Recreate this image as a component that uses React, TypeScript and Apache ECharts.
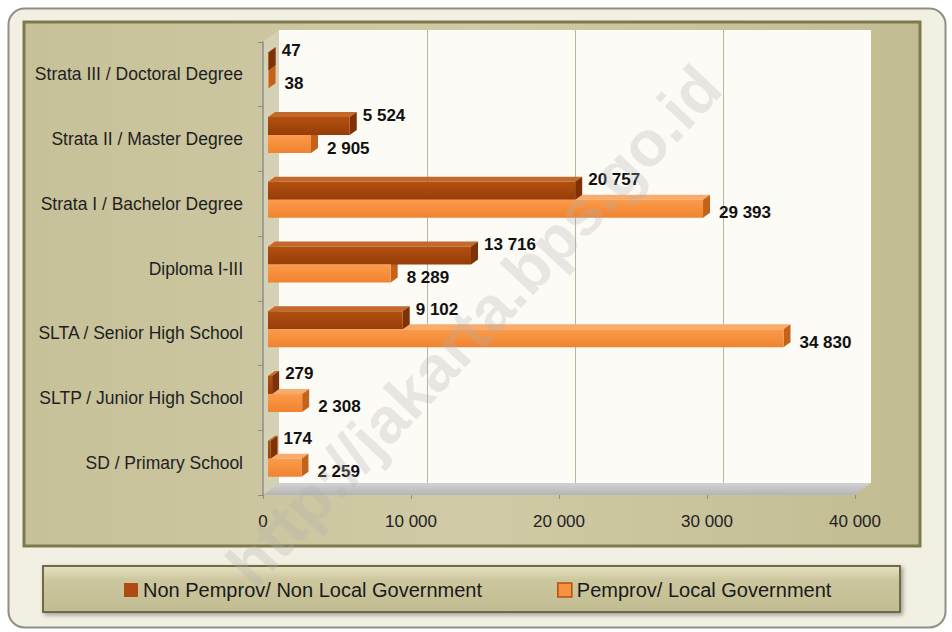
import React, { useEffect, useRef } from "react";
import * as echarts from "echarts";

const categories = [
  "Strata III / Doctoral Degree",
  "Strata II / Master Degree",
  "Strata I / Bachelor Degree",
  "Diploma I-III",
  "SLTA / Senior High School",
  "SLTP / Junior High School",
  "SD / Primary School",
];
const nonLocalGov = [47, 5524, 20757, 13716, 9102, 279, 174];
const localGov = [38, 2905, 29393, 8289, 34830, 2308, 2259];
const seriesNames = ["Non Pemprov/ Non Local Government", "Pemprov/ Local Government"];
const axisMin = 0;
const axisMax = 40000;
const axisStep = 10000;

const SANS = "'Liberation Sans', Arial, sans-serif";
const BW = 18;
const DX = 7;
const DY = 5;

const fmt = (v: number) => String(v).replace(/\B(?=(\d{3})+(?!\d))/g, " ");

function make3D(values: number[], top: boolean, topFill: string, sideFill: string) {
  return {
    type: "custom",
    xAxisIndex: 1,
    yAxisIndex: 1,
    z: 1,
    silent: true,
    data: values.map((v, i) => [i, v]),
    encode: { x: 1, y: 0 },
    renderItem: (params: any, api: any) => {
      const cat = api.value(0);
      const val = api.value(1);
      const base = api.coord([0, cat]);
      const end = api.coord([val, cat]);
      const yTop = top ? base[1] - BW : base[1];
      const yBot = yTop + BW;
      const x0 = base[0];
      const x1 = end[0];
      return {
        type: "group",
        children: [
          {
            type: "polygon",
            shape: { points: [[x0, yTop], [x1, yTop], [x1 + DX, yTop - DY], [x0 + DX, yTop - DY]] },
            style: { fill: topFill },
          },
          {
            type: "polygon",
            shape: { points: [[x1, yTop], [x1 + DX, yTop - DY], [x1 + DX, yBot - DY], [x1, yBot]] },
            style: { fill: sideFill },
          },
        ],
      };
    },
  };
}

export default function App() {
  const ref = useRef<HTMLDivElement>(null);
  useEffect(() => {
    if (!ref.current) return;
    const chart = echarts.init(ref.current, null, { renderer: "svg" });
    const darkFront = new echarts.graphic.LinearGradient(0, 0, 0, 1, [
      { offset: 0, color: "#b3500f" },
      { offset: 1, color: "#963d09" },
    ]);
    const orangeFront = new echarts.graphic.LinearGradient(0, 0, 0, 1, [
      { offset: 0, color: "#fb9b4b" },
      { offset: 1, color: "#f0832f" },
    ]);
    const valueLabel = {
      show: true,
      position: "right",
      fontFamily: SANS,
      fontWeight: "bold",
      fontSize: 17,
      color: "#111",
      formatter: (p: any) => fmt(p.value),
    };
    const option: any = {
      animation: false,
      backgroundColor: "transparent",
      graphic: [
        {
          type: "rect",
          z: -20,
          shape: { x: 8.5, y: 8.5, width: 937, height: 619, r: 16 },
          style: { fill: "#f2f0e2", stroke: "#8f8f86", lineWidth: 2 },
        },
        {
          type: "rect",
          z: -19,
          shape: { x: 24, y: 22, width: 896, height: 524 },
          style: {
            fill: new echarts.graphic.LinearGradient(0, 0, 1, 0, [
              { offset: 0, color: "#c7c199" },
              { offset: 0.5, color: "#d0cba6" },
              { offset: 1, color: "#c2bc92" },
            ]),
            stroke: "#7d784e",
            lineWidth: 3,
          },
        },
        {
          type: "polygon",
          z: -18,
          shape: { points: [[263, 42], [279, 30], [279, 483], [263, 495]] },
          style: { fill: "#d5d1b4" },
        },
        {
          type: "polygon",
          z: -18,
          shape: { points: [[263, 495], [279, 483], [871, 483], [855, 495]] },
          style: {
            fill: new echarts.graphic.LinearGradient(0, 0, 0, 1, [
              { offset: 0, color: "#d2d2d2" },
              { offset: 1, color: "#b4b4b4" },
            ]),
          },
        },
        {
          type: "rect",
          z: -18,
          shape: { x: 43, y: 566, width: 857, height: 46 },
          style: {
            fill: new echarts.graphic.LinearGradient(0, 0, 0, 1, [
              { offset: 0, color: "#e6e2c0" },
              { offset: 0.3, color: "#cdc79f" },
              { offset: 1, color: "#c2bc92" },
            ]),
            stroke: "#6f6a45",
            lineWidth: 2,
            shadowBlur: 4,
            shadowColor: "rgba(0,0,0,0.35)",
            shadowOffsetX: 2,
            shadowOffsetY: 2,
          },
        },
        {
          type: "text",
          z: 100,
          silent: true,
          x: 474,
          y: 326,
          rotation: 0.815,
          style: {
            text: "http://jakarta.bps.go.id",
            font: "bold 64px 'Liberation Sans', Arial, sans-serif",
            fill: "rgba(175,175,175,0.28)",
            align: "center",
            verticalAlign: "middle",
          },
        },
      ],
      legend: {
        data: seriesNames,
        left: 124,
        top: 580,
        padding: 0,
        itemWidth: 14,
        itemHeight: 14,
        itemGap: 75,
        icon: "rect",
        textStyle: { fontFamily: SANS, fontSize: 20, color: "#1a1a1a" },
      },
      grid: [
        { left: 279, top: 30, width: 592, height: 453, show: true, backgroundColor: "#fcfbf6", borderWidth: 0 },
        { left: 268, top: 38, width: 592, height: 453 },
        { left: 263, top: 42, width: 592, height: 453 },
      ],
      xAxis: [
        {
          gridIndex: 0,
          type: "value",
          min: axisMin,
          max: axisMax,
          interval: axisStep,
          axisLine: { show: false },
          axisTick: { show: false },
          axisLabel: { show: false },
          splitLine: { show: true, showMinLine: false, showMaxLine: false, lineStyle: { color: "#b8b59c", width: 1 } },
        },
        {
          gridIndex: 1,
          type: "value",
          min: axisMin,
          max: axisMax,
          interval: axisStep,
          show: false,
          splitLine: { show: false },
        },
        {
          gridIndex: 2,
          type: "value",
          min: axisMin,
          max: axisMax,
          interval: axisStep,
          axisLine: { show: false },
          axisTick: { show: true, length: 4, lineStyle: { color: "#8c8c8c" } },
          splitLine: { show: false },
          axisLabel: {
            margin: 18,
            fontFamily: SANS,
            fontSize: 17,
            color: "#222",
            formatter: (v: number) => fmt(v),
          },
        },
      ],
      yAxis: [
        { gridIndex: 0, type: "category", data: categories, inverse: true, show: false },
        { gridIndex: 1, type: "category", data: categories, inverse: true, show: false },
        {
          gridIndex: 2,
          type: "category",
          data: categories,
          inverse: true,
          axisLine: { show: true, lineStyle: { color: "#8c8c8c", width: 1.5 } },
          axisTick: { show: true, length: 5, lineStyle: { color: "#8c8c8c" } },
          axisLabel: { margin: 20, fontFamily: SANS, fontSize: 17.5, color: "#1e1e1e" },
        },
      ],
      series: [
        make3D(localGov, false, "#f9ab6c", "#c4621c"),
        make3D(nonLocalGov, true, "#c4692c", "#7e3206"),
        {
          name: seriesNames[0],
          type: "bar",
          xAxisIndex: 1,
          yAxisIndex: 1,
          z: 3,
          barWidth: BW,
          barGap: "0%",
          data: nonLocalGov,
          itemStyle: { color: darkFront },
          label: { ...valueLabel, distance: 13, offset: [0, -11] },
        },
        {
          name: seriesNames[1],
          type: "bar",
          xAxisIndex: 1,
          yAxisIndex: 1,
          z: 3,
          barWidth: BW,
          barGap: "0%",
          data: localGov,
          itemStyle: { color: orangeFront },
          label: { ...valueLabel, distance: 16, offset: [0, 4] },
        },
      ],
    };
    chart.setOption(option);
    chart.setOption({
      legend: {
        data: [
          { name: seriesNames[0], itemStyle: { color: "#b04a12", borderWidth: 0 } },
          { name: seriesNames[1], itemStyle: { color: "#f7923e", borderColor: "#b4500f", borderWidth: 1.5 } },
        ],
      },
    });
    return () => chart.dispose();
  }, []);
  return (
    <div
      ref={ref}
      style={{ position: "absolute", left: 0, top: 0, width: 952, height: 632 }}
    />
  );
}
